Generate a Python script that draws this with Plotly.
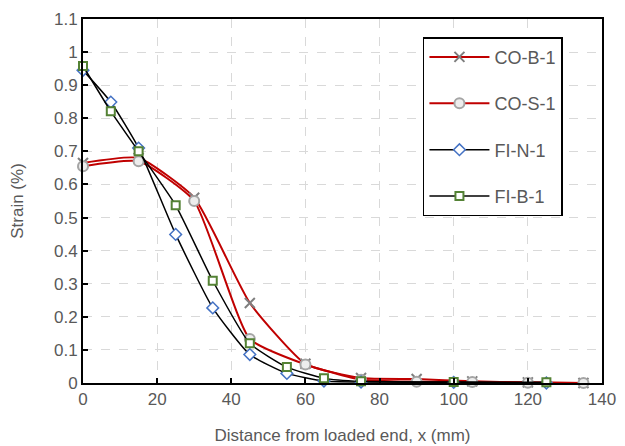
import plotly.graph_objects as go

# Data
x_co = [0, 15, 30, 45, 60, 75, 90, 105, 120, 135]
co_b1 = [0.665, 0.68, 0.56, 0.242, 0.058, 0.015, 0.012, 0.005, 0.002, 0.0]
co_s1 = [0.655, 0.67, 0.55, 0.133, 0.056, 0.01, 0.004, 0.003, 0.001, 0.0]

x_fi = [0, 7.5, 15, 25, 35, 45, 55, 65, 75, 100, 125]
fi_n1 = [0.945, 0.849, 0.71, 0.449, 0.227, 0.086, 0.029, 0.006, 0.003, 0.002, 0.0]
fi_b1 = [0.958, 0.821, 0.70, 0.537, 0.309, 0.12, 0.048, 0.014, 0.005, 0.003, 0.002]

FONT = "Liberation Sans, Arial, sans-serif"
GREY_TXT = "#595959"
FS = 17
SMOOTH = 0.5

fig = go.Figure()

fig.add_trace(go.Scatter(
    x=x_co, y=co_b1, name="CO-B-1", mode="lines+markers", legendgroup="a",
    line=dict(color="#C00000", width=2, shape="spline", smoothing=SMOOTH),
    marker=dict(symbol="x-thin", size=10, line=dict(color="#7F7F7F", width=2), color="#7F7F7F"),
    cliponaxis=False,
))
fig.add_trace(go.Scatter(
    x=x_co, y=co_s1, name="CO-S-1", mode="lines+markers", legendgroup="b",
    line=dict(color="#C00000", width=2, shape="spline", smoothing=SMOOTH),
    marker=dict(symbol="circle", size=10, color="#EDEDED", line=dict(color="#A5A5A5", width=2)),
    cliponaxis=False,
))
fig.add_trace(go.Scatter(
    x=x_fi, y=fi_n1, name="FI-N-1", mode="lines+markers", legendgroup="c",
    line=dict(color="black", width=1.5, shape="spline", smoothing=SMOOTH),
    marker=dict(symbol="diamond", size=9, color="white", line=dict(color="#4472C4", width=1.5)),
    cliponaxis=False,
))
fig.add_trace(go.Scatter(
    x=x_fi, y=fi_b1, name="FI-B-1", mode="lines+markers", legendgroup="d",
    line=dict(color="black", width=1.5, shape="spline", smoothing=SMOOTH),
    marker=dict(symbol="square", size=8, color="white", line=dict(color="#548235", width=2)),
    cliponaxis=False,
))

axis_common = dict(
    showline=True, linecolor="black", linewidth=2, mirror=True,
    ticks="inside", ticklen=5, tickcolor="black", tickwidth=1.5,
    showgrid=True, gridcolor="#D9D9D9", griddash="dash", gridwidth=1,
    zeroline=False, automargin=False,
    tickfont=dict(family=FONT, size=FS, color=GREY_TXT),
)

fig.update_xaxes(
    range=[0, 140], dtick=20, tick0=0,
    title=dict(text="Distance from loaded end, x (mm)", font=dict(family=FONT, size=FS, color=GREY_TXT), standoff=21),
    **axis_common,
)
fig.update_yaxes(
    range=[0, 1.1], dtick=0.1, tick0=0,
    title=dict(text="Strain (%)", font=dict(family=FONT, size=FS, color=GREY_TXT), standoff=29),
    **axis_common,
)

fig.update_layout(
    width=617, height=443,
    margin=dict(l=75, r=23, t=11, b=68, autoexpand=False),
    paper_bgcolor="white", plot_bgcolor="white",
    font=dict(family=FONT, size=FS, color=GREY_TXT),
    legend=dict(
        x=0.655, y=0.95, xanchor="left", yanchor="top",
        bgcolor="white", bordercolor="black", borderwidth=1.5,
        font=dict(family=FONT, size=18, color=GREY_TXT),
        tracegroupgap=20, itemwidth=60, entrywidth=165, entrywidthmode="pixels",
    ),
)

fig.write_html("out.html")
